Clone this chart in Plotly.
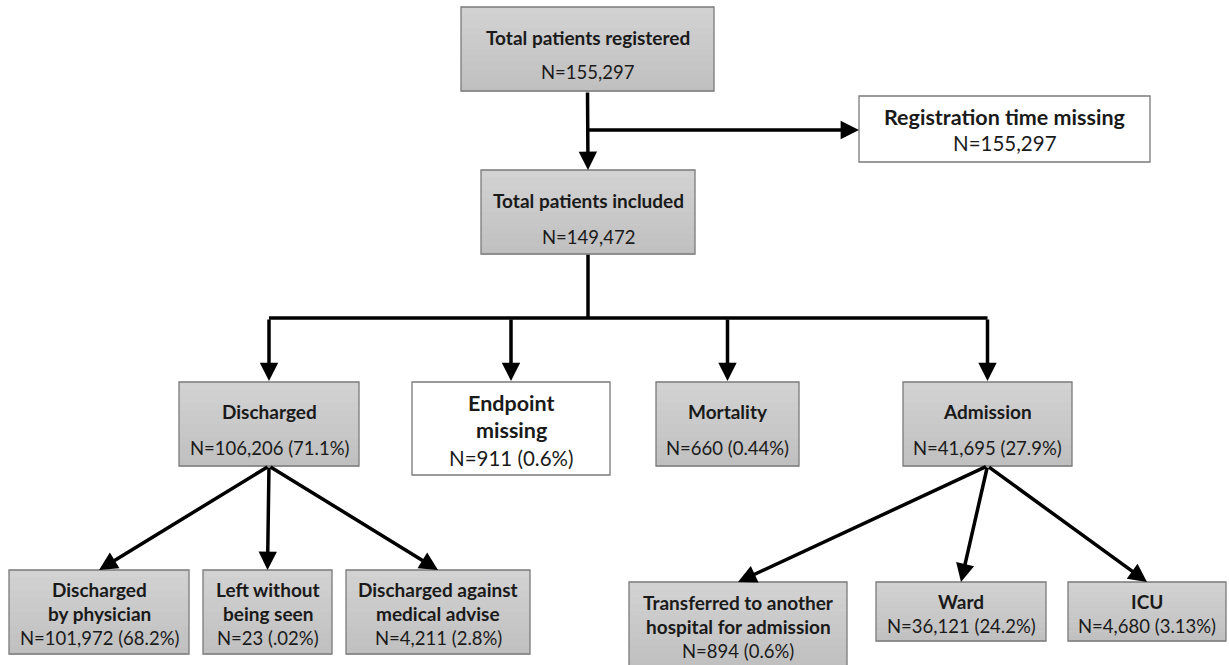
import plotly.graph_objects as go

# ---------------- data ----------------
node_titles = [
    "Total patients registered",
    "Registration time missing",
    "Total patients included",
    "Discharged",
    "Endpoint<br>missing",
    "Mortality",
    "Admission",
    "Discharged<br>by physician",
    "Left without<br>being seen",
    "Discharged against<br>medical advise",
    "Transferred to another<br>hospital for admission",
    "Ward",
    "ICU",
]
node_counts = [155297, 155297, 149472, 106206, 911, 660, 41695,
               101972, 23, 4211, 894, 36121, 4680]
node_pcts = [None, None, None, "71.1%", "0.6%", "0.44%", "27.9%",
             "68.2%", ".02%", "2.8%", "0.6%", "24.2%", "3.13%"]

# ---------------- layout (pixel geometry of the diagram) ----------------
# box: x0, x1, y0, y1, grey?, line centres, title size, N size
boxes = [
    (461, 714, 7, 91, True, [37, 72], 19, 18.5),
    (859, 1150, 96, 162, False, [117, 143], 21.5, 20.5),
    (481, 695, 170, 254, True, [200, 237], 19, 18.5),
    (179, 359, 382, 466, True, [411, 448], 19, 18.5),
    (412, 610, 382, 475, False, [403, 430, 458], 21.5, 20.5),
    (656, 799, 382, 466, True, [411, 448], 19, 18.5),
    (903, 1072, 382, 466, True, [411, 448], 19, 18.5),
    (9, 189, 570, 654, True, [589, 613, 638], 19, 18.5),
    (203, 332, 570, 654, True, [589, 613, 638], 19, 18.5),
    (346, 530, 570, 654, True, [589, 613, 638], 19, 18.5),
    (629, 847, 582, 667, True, [602, 626, 651], 19, 18.5),
    (876, 1046, 582, 641, True, [601, 626], 19, 18.5),
    (1068, 1226, 582, 641, True, [601, 626], 19, 18.5),
]
FONT = "Lato"
W, H = 1229, 665
LW = 3.5

fig = go.Figure()
shapes = []
annotations = []


def cx(i):
    return (boxes[i][0] + boxes[i][1]) / 2


def top(i):
    return boxes[i][2]


def bottom(i):
    return boxes[i][3]


def line(x0, y0, x1, y1):
    shapes.append(dict(type="line", x0=x0, y0=y0, x1=x1, y1=y1, xref="x", yref="y",
                       line=dict(color="black", width=LW), layer="below"))


def arrow(x0, y0, x1, y1):
    annotations.append(dict(x=x1, y=y1, ax=x0, ay=y0, xref="x", yref="y", axref="x", ayref="y",
                            text="", showarrow=True, arrowhead=2, arrowsize=1.05,
                            arrowwidth=LW, arrowcolor="black", standoff=0, startstandoff=0))


# boxes
n_bands = 12
for (x0, x1, y0, y1, grey, ys, fs_t, fs_n) in boxes:
    if grey:
        for k in range(n_bands):
            t = k / (n_bands - 1)
            c = int(round(210 - 18 * t))
            shapes.append(dict(type="rect", x0=x0, x1=x1,
                               y0=y0 + (y1 - y0) * k / n_bands,
                               y1=y0 + (y1 - y0) * (k + 1) / n_bands + 0.5,
                               xref="x", yref="y", line=dict(width=0),
                               fillcolor=f"rgb({c},{c},{c})", layer="above"))
        shapes.append(dict(type="rect", x0=x0, x1=x1, y0=y0, y1=y1, xref="x", yref="y",
                           line=dict(color="#7a7a7a", width=1.3), fillcolor="rgba(0,0,0,0)",
                           layer="above"))
    else:
        shapes.append(dict(type="rect", x0=x0, x1=x1, y0=y0, y1=y1, xref="x", yref="y",
                           line=dict(color="#7a7a7a", width=1.3), fillcolor="white",
                           layer="above"))

# texts
for i, (x0, x1, y0, y1, grey, ys, fs_t, fs_n) in enumerate(boxes):
    tlines = node_titles[i].split("<br>")
    nline = f"N={node_counts[i]:,}"
    if node_pcts[i]:
        nline += f" ({node_pcts[i]})"
    items = [("<b>" + t + "</b>", fs_t) for t in tlines] + [(nline, fs_n)]
    for (txt, fs), y in zip(items, ys):
        annotations.append(dict(x=(x0 + x1) / 2, y=y, xref="x", yref="y", text=txt,
                                showarrow=False, xanchor="center", yanchor="middle",
                                font=dict(family=FONT, size=fs, color="#1a1a1a")))

# connectors
BUS1 = 130
BUS2 = 318
arrow(cx(0), bottom(0), cx(2), top(2))
arrow(cx(0), BUS1, boxes[1][0], BUS1)
line(cx(2), bottom(2), cx(2), BUS2)
line(cx(3), BUS2, cx(6), BUS2)
for i in (3, 4, 5, 6):
    arrow(cx(i), BUS2, cx(i), top(i) - 1)
for i in (7, 8, 9):
    arrow(cx(3), bottom(3), cx(i), top(i))
for i in (10, 11, 12):
    arrow(cx(6), bottom(6), cx(i), top(i))

fig.update_layout(
    width=W, height=H,
    margin=dict(l=0, r=0, t=0, b=0),
    paper_bgcolor="white", plot_bgcolor="white",
    xaxis=dict(range=[0, W], visible=False, fixedrange=True),
    yaxis=dict(range=[H, 0], visible=False, fixedrange=True),
    shapes=shapes, annotations=annotations, showlegend=False,
)
fig.write_html("out.html",
               config={"displayModeBar": False, "staticPlot": True},
               post_script="document.body.style.margin='0';document.body.style.overflow='hidden';")
